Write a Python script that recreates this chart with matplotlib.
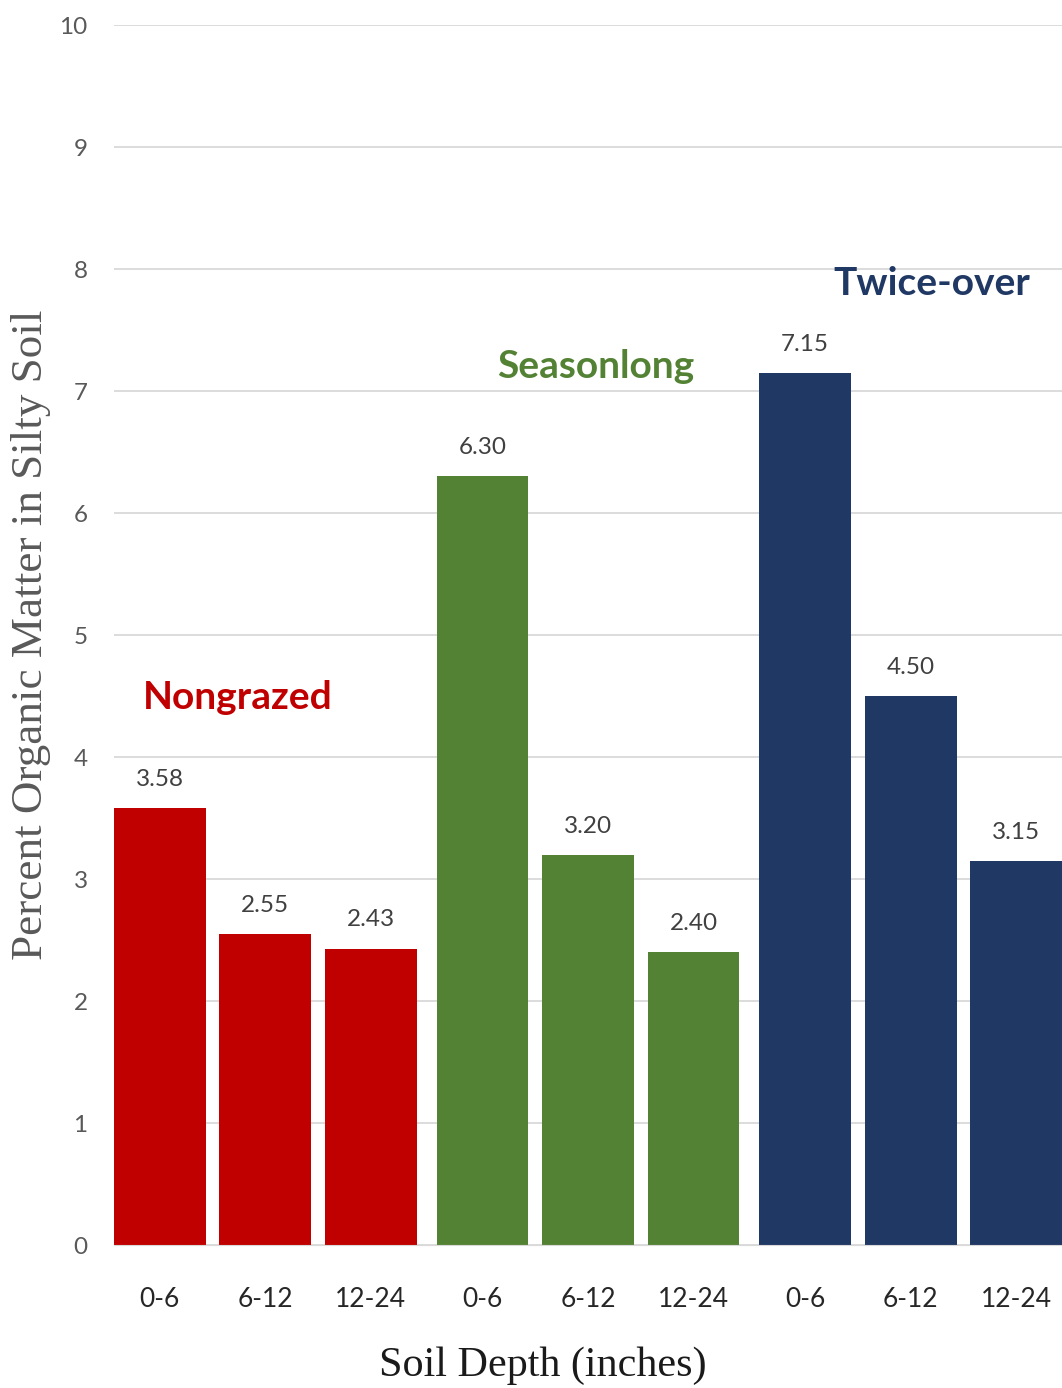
"""Organic matter in silty soil by grazing treatment and depth."""

import matplotlib.pyplot as plt

groups = ["Nongrazed", "Seasonlong", "Twice-over"]
depths = ["0-6", "6-12", "12-24"]
nongrazed = [3.58, 2.55, 2.43]
seasonlong = [6.30, 3.20, 2.40]
twice_over = [7.15, 4.50, 3.15]

colors = ["#C00000", "#548235", "#203864"]
label_xy = [(0.74, 4.49), (4.13, 7.2), (7.32, 7.88)]

plt.rcParams["font.family"] = ["Lato", "DejaVu Sans"]

fig = plt.figure(figsize=(10.62, 13.88), dpi=100)
ax = fig.add_axes([114 / 1062, 143 / 1388, 948 / 1062, 1220 / 1388])

group_step = 3.06
positions = []
tick_labels = []
for g, (name, values, color) in enumerate(zip(groups, [nongrazed, seasonlong, twice_over], colors)):
    xs = [g * group_step + i for i in range(len(values))]
    ax.bar(xs, values, width=0.87, color=color, zorder=2)
    for x, v in zip(xs, values):
        ax.annotate(f"{v:.2f}", (x, v), xytext=(0, 13), textcoords="offset points",
                    ha="center", va="bottom", fontsize=17.5, color="#404040")
    lx, ly = label_xy[g]
    ax.text(lx, ly, name, ha="center", va="center", fontsize=28,
            fontweight="bold", color=color)
    positions += xs
    tick_labels += depths

ax.set_xlim(-0.435, 8.555)
ax.set_ylim(0, 10)
ax.set_yticks(range(0, 11))
ax.set_xticks(positions)
ax.set_xticklabels(tick_labels, fontsize=19, color="#262626")
ax.tick_params(axis="x", length=0, pad=30)
ax.tick_params(axis="y", length=0, pad=19, labelsize=17.5, labelcolor="#595959")
ax.grid(axis="y", color="#D9D9D9", linewidth=1.3, zorder=0)
for side in ["top", "right", "left"]:
    ax.spines[side].set_visible(False)
ax.spines["bottom"].set_color("#D9D9D9")
ax.set_axisbelow(True)

fig.text(543 / 1062, 1 - 1366 / 1388, "Soil Depth (inches)", ha="center", va="center",
         fontsize=30.3, family="Liberation Serif", color="#1a1a1a")
fig.text(31 / 1062, 1 - 635 / 1388, "Percent Organic Matter in Silty Soil", ha="center",
         va="center", rotation=90, fontsize=32.5, family="Liberation Serif", color="#595959")

plt.savefig("out.png", dpi=100)
